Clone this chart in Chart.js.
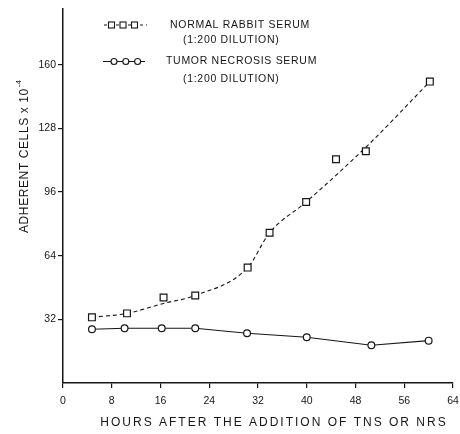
<!DOCTYPE html>
<html>
<head>
<meta charset="utf-8">
<script src="https://cdn.jsdelivr.net/npm/chart.js@4.4.1/dist/chart.umd.min.js"></script>
<style>
  html, body { margin: 0; padding: 0; background: #fff; }
  #wrap { width: 460px; height: 434px; }
</style>
</head>
<body>
<div id="wrap"><canvas id="chart" width="460" height="434"></canvas></div>
<script>
// Hours after the addition of serum vs adherent cells (x 10^-4)
const nrsHours = [4.75, 10.5, 16.5, 21.7, 30.3, 33.9, 39.9, 44.8, 49.7, 60.2];
const nrsCells = [33, 35, 43, 44, 58, 75.5, 91, 112.5, 116.5, 151.5];
// dashed trend curve drawn through the NRS squares
const nrsFitHours = [4.75, 10.5, 16.5, 21.7, 30.3, 33.9, 39.9, 49.7, 60.2];
const nrsFitCells = [33, 35, 40, 44, 58, 75.5, 91, 118.5, 151.5];
const tnsHours = [4.75, 10.1, 16.2, 21.7, 30.2, 40, 50.6, 60];
const tnsCells = [27, 27.5, 27.5, 27.5, 25, 23, 19, 21.3];
const xTicks = [0, 8, 16, 24, 32, 40, 48, 56, 64];
const yTicks = [32, 64, 96, 128, 160];

const ink = '#161616';
const fontFamily = '"Liberation Sans", Arial, sans-serif';

function toPoints(xs, ys) {
    return xs.map((x, i) => ({ x: x, y: ys[i] }));
}

// Legend and axis titles, drawn the way the old figure lays them out
const paperLabels = {
    id: 'paperLabels',
    afterDraw(chart) {
        const ctx = chart.ctx;
        ctx.save();
        ctx.fillStyle = ink;
        ctx.strokeStyle = ink;
        ctx.textBaseline = 'middle';

        // x axis title
        ctx.font = '12px ' + fontFamily;
        ctx.letterSpacing = '2px';
        ctx.textAlign = 'center';
        ctx.fillText('HOURS AFTER THE ADDITION OF TNS OR NRS', 274, 423);

        // y axis title, rotated, with superscript exponent
        ctx.save();
        ctx.translate(25, 233);
        ctx.rotate(-Math.PI / 2);
        ctx.letterSpacing = '0.6px';
        ctx.textAlign = 'left';
        const yTitle = 'ADHERENT CELLS x 10';
        ctx.fillText(yTitle, 0, 0);
        const w = ctx.measureText(yTitle).width;
        ctx.font = '8px ' + fontFamily;
        ctx.letterSpacing = '0px';
        ctx.fillText('-4', w + 1, -6);
        ctx.restore();

        // legend row 1: normal rabbit serum
        ctx.lineWidth = 1.1;
        ctx.setLineDash([3, 3]);
        ctx.beginPath();
        ctx.moveTo(104, 25);
        ctx.lineTo(147, 25);
        ctx.stroke();
        ctx.setLineDash([]);
        [111.5, 123, 134.5].forEach(cx => {
            ctx.fillStyle = '#fff';
            ctx.fillRect(cx - 3, 22, 6, 6);
            ctx.strokeRect(cx - 3, 22, 6, 6);
        });

        // legend row 2: tumor necrosis serum
        ctx.beginPath();
        ctx.moveTo(103, 61.5);
        ctx.lineTo(145, 61.5);
        ctx.stroke();
        [114, 125.8, 137.6].forEach(cx => {
            ctx.beginPath();
            ctx.arc(cx, 61.5, 3, 0, Math.PI * 2);
            ctx.fillStyle = '#fff';
            ctx.fill();
            ctx.stroke();
        });

        ctx.fillStyle = ink;
        ctx.font = '10.5px ' + fontFamily;
        ctx.letterSpacing = '0.7px';
        ctx.textAlign = 'left';
        ctx.fillText('NORMAL RABBIT SERUM', 170, 25);
        ctx.fillText('(1:200 DILUTION)', 183, 40.5);
        ctx.fillText('TUMOR NECROSIS SERUM', 166, 61.5);
        ctx.fillText('(1:200 DILUTION)', 183, 79);
        ctx.restore();
    }
};

document.addEventListener('DOMContentLoaded', function() {
    new Chart(document.getElementById('chart'), {
        type: 'scatter',
        data: {
            datasets: [{
                label: 'NORMAL RABBIT SERUM (1:200 DILUTION)',
                data: toPoints(nrsHours, nrsCells),
                showLine: false,
                pointStyle: 'rect',
                pointRadius: 4.8,
                pointBorderWidth: 1.2,
                pointBorderColor: ink,
                pointBackgroundColor: '#fff',
                order: 0
            },
            {
                label: 'NRS trend',
                data: toPoints(nrsFitHours, nrsFitCells),
                showLine: true,
                borderColor: ink,
                borderWidth: 1.1,
                borderDash: [4, 3],
                cubicInterpolationMode: 'monotone',
                pointRadius: 0,
                order: 2
            },
            {
                label: 'TUMOR NECROSIS SERUM (1:200 DILUTION)',
                data: toPoints(tnsHours, tnsCells),
                showLine: true,
                borderColor: ink,
                borderWidth: 1.1,
                pointStyle: 'circle',
                pointRadius: 3.4,
                pointBorderWidth: 1.2,
                pointBorderColor: ink,
                pointBackgroundColor: '#fff',
                order: 1
            }]
        },
        options: {
            responsive: false,
            animation: false,
            events: [],
            layout: {
                padding: { top: 9, right: 7, bottom: 0, left: 0 }
            },
            plugins: {
                legend: { display: false },
                tooltip: { enabled: false }
            },
            scales: {
                x: {
                    type: 'linear',
                    min: 0,
                    max: 64,
                    afterBuildTicks: scale => {
                        scale.ticks = xTicks.map(v => ({ value: v }));
                    },
                    afterFit: scale => {
                        scale.height = 51;
                        scale.paddingLeft = 0;
                        scale.paddingRight = 0;
                    },
                    grid: {
                        drawOnChartArea: false,
                        drawTicks: true,
                        tickLength: 5,
                        color: ink,
                        lineWidth: 1.2
                    },
                    border: { display: true, color: ink, width: 1.5 },
                    ticks: {
                        color: ink,
                        padding: 7,
                        autoSkip: false,
                        maxRotation: 0,
                        font: { family: fontFamily, size: 10.5 }
                    }
                },
                y: {
                    type: 'linear',
                    min: 0,
                    max: 188,
                    afterBuildTicks: scale => {
                        scale.ticks = yTicks.map(v => ({ value: v }));
                    },
                    afterFit: scale => {
                        scale.width = 63;
                        scale.paddingTop = 0;
                        scale.paddingBottom = 0;
                    },
                    grid: {
                        drawOnChartArea: false,
                        drawTicks: true,
                        tickLength: 5,
                        color: ink,
                        lineWidth: 1.2
                    },
                    border: { display: true, color: ink, width: 1.5 },
                    ticks: {
                        color: ink,
                        padding: 2,
                        autoSkip: false,
                        font: { family: fontFamily, size: 10.5 }
                    }
                }
            }
        },
        plugins: [paperLabels]
    });
});
</script>
</body>
</html>
